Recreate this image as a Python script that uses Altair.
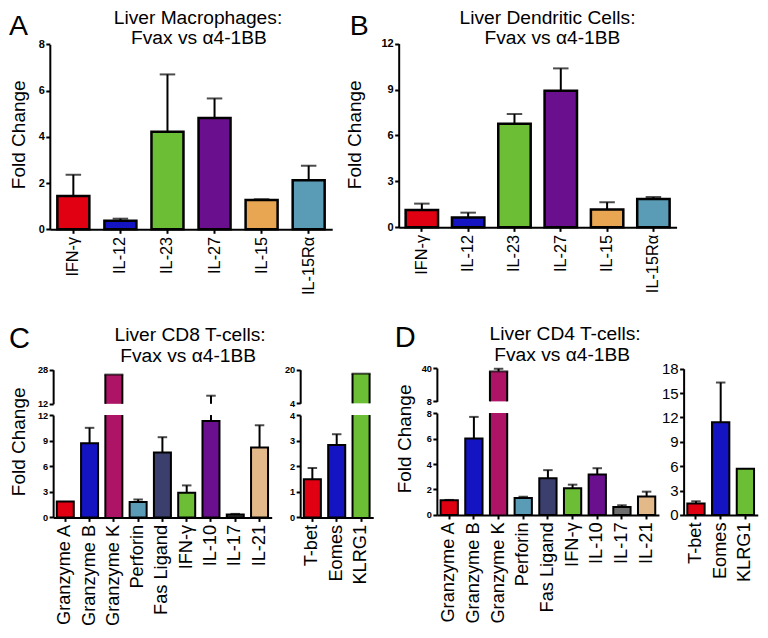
import altair as alt
import pandas as pd

# ---------------- data ----------------
a_cats = ["IFN-γ", "IL-12", "IL-23", "IL-27", "IL-15", "IL-15Rα"]
a_vals = [1.44, 0.37, 4.22, 4.81, 1.27, 2.12]
a_errs = [0.92, 0.09, 2.48, 0.85, 0.03, 0.63]
b_vals = [1.13, 0.64, 6.77, 8.92, 1.17, 1.85]
b_errs = [0.42, 0.32, 0.63, 1.46, 0.47, 0.13]
ab_colors = ["#e00012", "#1414c2", "#6cbf35", "#6a108e", "#e8a652", "#5a9bb6"]

cd_cats = ["Granzyme A", "Granzyme B", "Granzyme K", "Perforin", "Fas Ligand",
           "IFN-γ", "IL-10", "IL-17", "IL-21"]
c_vals = [1.85, 8.7, 25.7, 1.8, 7.6, 2.9, 11.3, 0.33, 8.2]
c_errs = [0.0, 1.8, 0.0, 0.3, 1.8, 0.85, 4.5, 0.08, 2.6]
d_vals = [1.15, 6.0, 36.8, 1.33, 2.89, 2.1, 3.17, 0.63, 1.45]
d_errs = [0.03, 1.7, 2.5, 0.1, 0.63, 0.28, 0.5, 0.13, 0.38]
c_colors = ["#e00012", "#1414c2", "#ad1465", "#5a9bb6", "#3b3f6e",
            "#6cbf35", "#6a108e", "#3a3a3a", "#e3b98a"]
d_colors = ["#e00012", "#1414c2", "#ad1465", "#5a9bb6", "#3b3f6e",
            "#6cbf35", "#6a108e", "#6e6e6e", "#e3b98a"]

tf_cats = ["T-bet", "Eomes", "KLRG1"]
c_tf_vals = [1.49, 2.83, 18.1]
c_tf_errs = [0.44, 0.42, 0.0]
d_tf_vals = [1.4, 11.4, 5.68]
d_tf_errs = [0.28, 4.9, 0.0]
tf_colors = ["#e00012", "#1414c2", "#6cbf35"]

titles = {
    "A": ["Liver Macrophages:", "Fvax vs α4-1BB"],
    "B": ["Liver Dendritic Cells:", "Fvax vs α4-1BB"],
    "C": ["Liver CD8 T-cells:", "Fvax vs α4-1BB"],
    "D": ["Liver CD4 T-cells:", "Fvax vs α4-1BB"],
}
ytitle = "Fold Change"

# ---------------- layout helpers ----------------
W, H = 752, 622
SX, SY = W / 768, H / 638
FONT = "Liberation Sans"


def X(v):
    return round(v * SX, 2)


def Y(v):
    return round(v * SY, 2)


def segment(cats, vals, errs, colors, xr, yr, dom, ticks, part,
            xlab=18.2, ylab=9.2, yweight="bold", sw=2.0, cap=9.5, pad=0.3):
    df = pd.DataFrame({"cat": cats, "val": vals,
                       "hi": [v + e for v, e in zip(vals, errs)], "err": errs})
    lo, top = dom
    x0, x1 = X(xr[0]), X(xr[1])
    ybot, ytop = Y(yr[0]), Y(yr[1])
    step = (x1 - x0) / len(cats)
    barw = step * (1 - pad)
    xscale = alt.Scale(domain=cats, range=[x0, x1], paddingInner=pad, paddingOuter=pad / 2)
    yscale = alt.Scale(domain=[lo, top], range=[ybot, ytop], clamp=True, nice=False, zero=False)
    if part == "bottom":
        xaxis = alt.Axis(orient="bottom", offset=round(ybot - H, 2), title=None,
                         labelAngle=-90, labelFontSize=xlab, labelFont=FONT,
                         labelColor="black", domainColor="black", domainWidth=2,
                         tickColor="black", tickWidth=2, tickSize=4, labelPadding=3,
                         labelOverlap=False, labelLimit=0, zindex=1)
    else:
        xaxis = None
    yaxis = alt.Axis(orient="left", offset=-x0, values=ticks, title=None, grid=False,
                     labelFontSize=ylab, labelFontWeight=yweight, labelFont=FONT,
                     labelColor="black", domainColor="black", domainWidth=2,
                     tickColor="black", tickWidth=2, tickSize=4, labelPadding=1.5,
                     labelOverlap=False, zindex=1)
    xe = alt.X("cat:N", sort=cats, scale=xscale, axis=xaxis)
    xleft = alt.X("cat:N", sort=cats, scale=xscale, axis=xaxis, bandPosition=0)
    xright = alt.X("cat:N", sort=cats, scale=xscale, axis=xaxis, bandPosition=1)
    ye = alt.Y("val:Q", scale=yscale, axis=yaxis)
    yh = alt.Y("hi:Q", scale=yscale, axis=yaxis)
    fill = alt.Fill("cat:N", scale=alt.Scale(domain=cats, range=colors), legend=None)
    base = alt.Chart(df)
    layers = []
    if part == "bottom":
        layers.append(base.transform_filter(alt.datum.val <= top)
                      .mark_bar(stroke="black", strokeWidth=sw)
                      .encode(x=xe, y=ye, fill=fill))
        over = base.transform_filter(alt.datum.val > top)
        eb = base.transform_filter((alt.datum.err > 0) & (alt.datum.val < top))
    else:
        over = base.transform_filter(alt.datum.val > lo)
        eb = base.transform_filter((alt.datum.err > 0) & (alt.datum.hi > lo))
    # bars cut by the broken axis: fill plus side edges only
    layers.append(over.mark_bar(strokeWidth=0).encode(x=xe, y=ye, y2=alt.datum(lo), fill=fill))
    for xs in (xleft, xright):
        layers.append(over.mark_rule(color="black", strokeWidth=sw)
                      .encode(x=xs, y=ye, y2=alt.datum(lo)))
    if part == "top":
        layers.append(over.mark_tick(color="black", thickness=sw, size=barw + sw)
                      .encode(x=xe, y=ye))
    # error bars (upper only)
    layers.append(eb.mark_rule(color="black", strokeWidth=2).encode(x=xe, y=ye, y2="hi:Q"))
    layers.append(eb.transform_filter(alt.datum.hi <= top)
                  .mark_tick(color="black", thickness=2, size=cap)
                  .encode(x=xe, y=yh))
    return alt.layer(*layers)


def label(t, x, y, size, angle=0, align="center", baseline="alphabetic"):
    return alt.Chart(pd.DataFrame({"t": [t]})).mark_text(
        font=FONT, fontSize=size, angle=angle, align=align, baseline=baseline,
        color="black").encode(text="t:N", x=alt.value(X(x)), y=alt.value(Y(y)))


panels = [
    # A
    segment(a_cats, a_vals, a_errs, ab_colors, (42.7, 331.1), (227, 37.3), (0, 8),
            [0, 2, 4, 6, 8], "bottom", xlab=16.3, ylab=11, sw=2.5, cap=15.5, pad=0.32),
    # B
    segment(a_cats, b_vals, b_errs, ab_colors, (399, 682.8), (225, 36.5), (0, 12),
            [0, 3, 6, 9, 12], "bottom", xlab=16.3, ylab=11, sw=2.5, cap=15.5, pad=0.30),
    # C left
    segment(cd_cats, c_vals, c_errs, c_colors, (46.1, 269.3), (522.5, 417.5), (0, 12),
            [0, 3, 6, 9, 12], "bottom"),
    segment(cd_cats, c_vals, c_errs, c_colors, (46.1, 269.3), (406, 371), (12, 28),
            [12, 28], "top"),
    # C right
    segment(tf_cats, c_tf_vals, c_tf_errs, tf_colors, (298.4, 373), (522.5, 417.5), (0, 4),
            [0, 1, 2, 3, 4], "bottom"),
    segment(tf_cats, c_tf_vals, c_tf_errs, tf_colors, (298.4, 373), (405.5, 371), (4, 20),
            [4, 20], "top"),
    # D left
    segment(cd_cats, d_vals, d_errs, d_colors, (438, 664.8), (520, 415.5), (0, 8),
            [0, 2, 4, 6, 8], "bottom"),
    segment(cd_cats, d_vals, d_errs, d_colors, (438, 664.8), (403.5, 369.3), (8, 40),
            [8, 40], "top"),
    # D right
    segment(tf_cats, d_tf_vals, d_tf_errs, tf_colors, (690, 765.7), (520, 370), (0, 18),
            [0, 3, 6, 9, 12, 15, 18], "bottom", ylab=15, yweight="normal"),
]

TS = 19.2
texts = [
    label(titles["A"][0], 194, 16.5, TS), label(titles["A"][1], 195, 36.5, TS),
    label(titles["B"][0], 551, 16.5, TS), label(titles["B"][1], 556, 36.5, TS),
    label(titles["C"][0], 186, 341.7, TS), label(titles["C"][1], 184, 363.5, TS),
    label(titles["D"][0], 569, 340.7, TS), label(titles["D"][1], 566, 362.5, TS),
    label("A", 1, 28, 28.5, align="left"), label("B", 349, 28, 28.5, align="left"),
    label("C", 1, 349, 29, align="left"), label("D", 395, 348, 29, align="left"),
    label(ytitle, 11, 130, 19, angle=270, baseline="middle"),
    label(ytitle, 354, 130, 19, angle=270, baseline="middle"),
    label(ytitle, 11, 445, 19, angle=270, baseline="middle"),
    label(ytitle, 405, 442, 19, angle=270, baseline="middle"),
]

chart = (
    alt.layer(*panels, *texts)
    .resolve_scale(x="independent", y="independent", fill="independent")
    .resolve_axis(x="independent", y="independent")
    .properties(width=W, height=H, autosize=alt.AutoSizeParams(type="none"), padding=0)
    .configure_view(stroke=None)
)

chart.save("out.html", embed_options={"renderer": "svg", "actions": False})
